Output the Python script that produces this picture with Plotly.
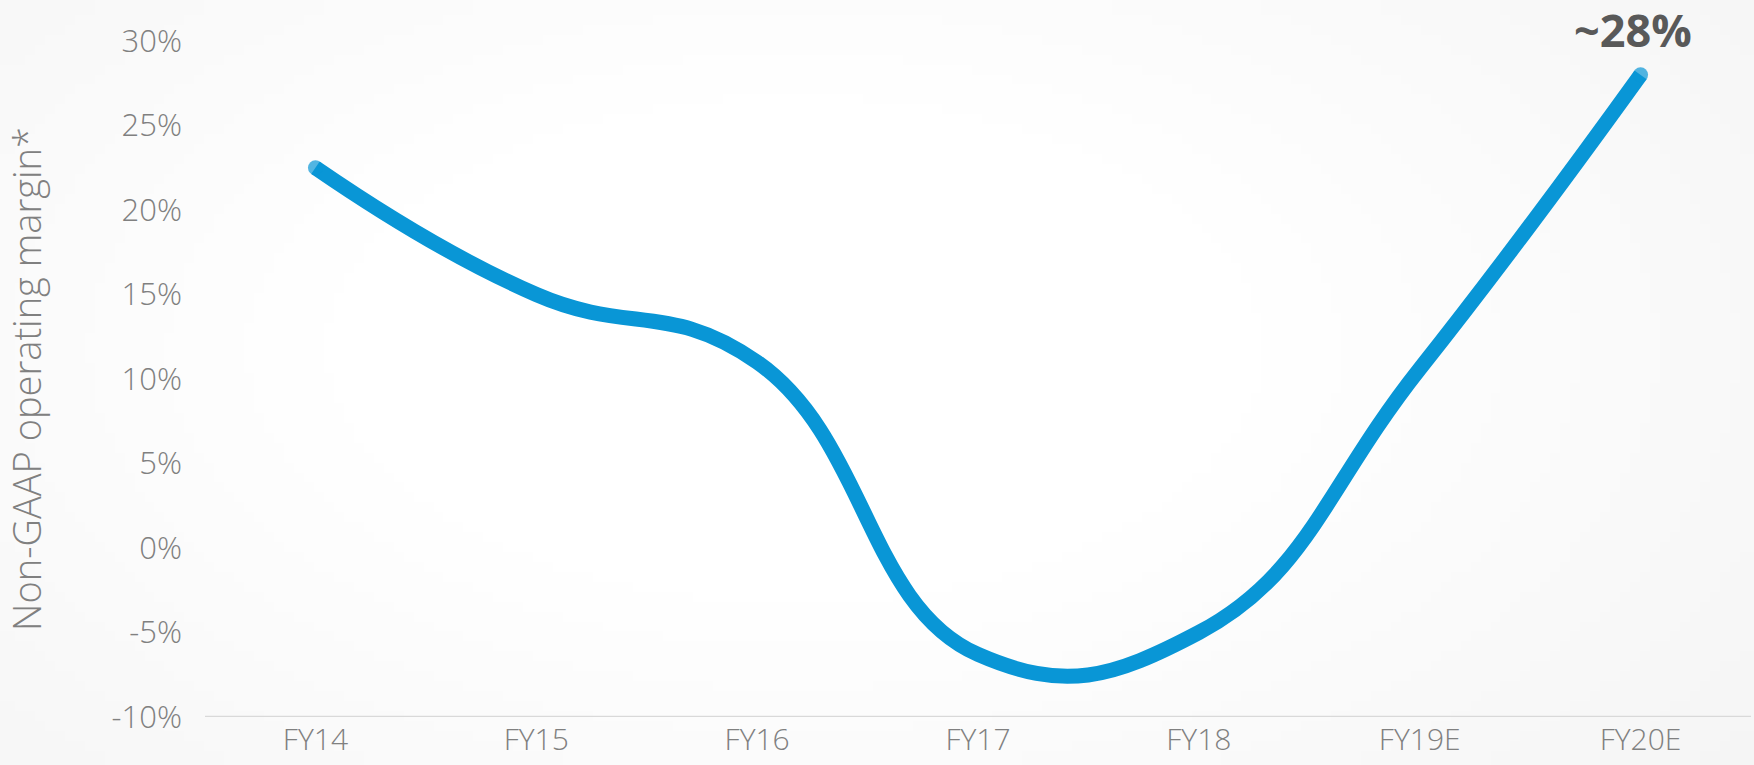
import base64
import struct
import zlib

import numpy as np
import plotly.graph_objects as go

# ---- data ----
categories = ["FY14", "FY15", "FY16", "FY17", "FY18", "FY19E", "FY20E"]
margin_pct = [22.5, 15.0, 11.0, -6.3, -5.0, 10.6, 28.0]
y_tick_vals = [-10, -5, 0, 5, 10, 15, 20, 25, 30]
y_tick_text = ["-10%", "-5%", "0%", "5%", "10%", "15%", "20%", "25%", "30%"]
callout_text = "~28%"

W, H = 1754, 765


def gradient_png(w=176, h=77):
    yy, xx = np.mgrid[0:h, 0:w].astype(float)
    cx, cy = 0.45 * w, 0.45 * h
    d = np.sqrt(((xx - cx) / (0.6 * w)) ** 2 + ((yy - cy) / (0.75 * h)) ** 2)
    v = 255 - 10 * np.clip((d - 0.45) / 0.75, 0, 1)
    arr = np.clip(v, 0, 255).astype(np.uint8)
    rgb = np.stack([arr, arr, arr], axis=-1)
    raw = b"".join(b"\x00" + rgb[i].tobytes() for i in range(h))

    def chunk(tag, data):
        c = tag + data
        return struct.pack(">I", len(data)) + c + struct.pack(">I", zlib.crc32(c) & 0xFFFFFFFF)

    png = b"\x89PNG\r\n\x1a\n"
    png += chunk(b"IHDR", struct.pack(">IIBBBBB", w, h, 8, 2, 0, 0, 0))
    png += chunk(b"IDAT", zlib.compress(raw, 9))
    png += chunk(b"IEND", b"")
    return "data:image/png;base64," + base64.b64encode(png).decode()


line_color = "#0996D6"
line_w = 15
n = len(categories)
cap_sizes = [line_w if i in (0, n - 1) else 0 for i in range(n)]

fig = go.Figure()
fig.add_trace(
    go.Scatter(
        x=categories,
        y=margin_pct,
        mode="lines+markers",
        line=dict(color=line_color, width=line_w, shape="spline", smoothing=1.3),
        marker=dict(color=line_color, size=cap_sizes, line=dict(width=0)),
        cliponaxis=False,
        hoverinfo="skip",
        showlegend=False,
    )
)

fig.add_annotation(
    x=categories[-1],
    y=margin_pct[-1],
    text=f"<b>{callout_text}</b>",
    showarrow=False,
    yanchor="middle",
    xanchor="center",
    yshift=45,
    xshift=-8,
    borderpad=0,
    font=dict(family="Open Sans, Lato, sans-serif", size=45, color="#595959"),
)

axis_font = dict(family="Open Sans, Lato, sans-serif", size=31, color="#808080", weight=300)

fig.update_layout(
    width=W,
    height=H,
    margin=dict(l=205, r=3, t=41, b=48, autoexpand=False),
    paper_bgcolor="#ffffff",
    plot_bgcolor="rgba(0,0,0,0)",
    images=[
        dict(
            source=gradient_png(),
            xref="paper",
            yref="paper",
            x=-205 / (W - 208),
            y=1 + 41 / (H - 89),
            sizex=W / (W - 208),
            sizey=H / (H - 89),
            xanchor="left",
            yanchor="top",
            sizing="stretch",
            layer="below",
        )
    ],
    xaxis=dict(
        type="category",
        range=[-0.5, n - 0.5],
        showgrid=False,
        zeroline=False,
        showline=False,
        ticks="",
        tickfont=dict(family="Open Sans, Lato, sans-serif", size=30, color="#808080", weight=300),
        ticklabelstandoff=2,
    ),
    yaxis=dict(
        range=[-10, 30],
        tickvals=y_tick_vals,
        ticktext=y_tick_text,
        showgrid=False,
        zeroline=False,
        showline=False,
        ticks="",
        tickfont=axis_font,
        ticklabelstandoff=22,
        title=dict(
            text="Non-GAAP operating margin*",
            font=dict(family="Open Sans, Lato, sans-serif", size=38, color="#808080", weight=300),
            standoff=60,
        ),
    ),
    shapes=[
        dict(
            type="line",
            xref="paper",
            yref="y",
            x0=0,
            x1=1,
            y0=-10,
            y1=-10,
            line=dict(color="#D9D9D9", width=2.5),
            layer="below",
        )
    ],
)

fig.write_html("out.html")
